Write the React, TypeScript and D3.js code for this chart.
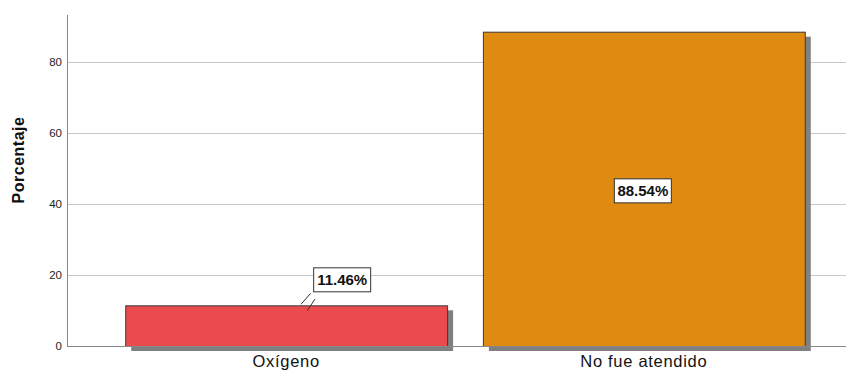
import React from "react";
import * as d3 from "d3";

const categories = ["Oxígeno", "No fue atendido"];
const values = [11.46, 88.54];
const valueLabels = ["11.46%", "88.54%"];
const barColors = ["#EC4B4E", "#DF8A10"];
const yTicks = [0, 20, 40, 60, 80];
const yTitle = "Porcentaje";

const W = 846;
const H = 371;

export default function App() {
  const x = d3
    .scaleBand<string>()
    .domain(categories)
    .range([68, 862])
    .paddingInner(0.1)
    .paddingOuter(0.16);
  const y = d3.scaleLinear().domain([0, 93.24]).range([346, 15]);
  const bw = x.bandwidth();
  const font = "'Liberation Sans', Arial, sans-serif";

  return (
    <svg
      width={W}
      height={H}
      style={{ position: "absolute", left: 0, top: 0, background: "#fff" }}
      fontFamily={font}
    >
      {yTicks
        .filter((t) => t > 0)
        .map((t) => (
          <line
            key={"g" + t}
            x1={67}
            x2={W}
            y1={Math.round(y(t)) + 0.5}
            y2={Math.round(y(t)) + 0.5}
            stroke="#c8c8c8"
            strokeWidth={1}
          />
        ))}
      {yTicks.map((t) => (
        <text
          key={"t" + t}
          x={62}
          y={y(t)}
          dy="0.36em"
          textAnchor="end"
          fontSize={11.5}
          fill="#222"
        >
          {t}
        </text>
      ))}
      {categories.map((c, i) => {
        const x0 = x(c)!;
        const yt = y(values[i]);
        return (
          <g key={c}>
            <rect
              x={x0 + 6}
              y={yt + 5}
              width={bw}
              height={y(0) - yt}
              fill="#808080"
            />
            <rect
              x={x0 + 0.5}
              y={yt + 0.5}
              width={bw}
              height={y(0) - yt}
              fill={barColors[i]}
              stroke="#3a3a3a"
              strokeWidth={1}
            />
          </g>
        );
      })}
      <line x1={67.5} x2={67.5} y1={15} y2={346} stroke="#888" strokeWidth={1} />
      <line x1={67} x2={W} y1={346.5} y2={346.5} stroke="#888" strokeWidth={1} />
      {categories.map((c, i) => {
        const cx = x(c)! + bw / 2;
        const yt = y(values[i]);
        const inside = i === 1;
        const bx = inside ? cx - 1 : cx + 56;
        const by = inside ? (yt + y(0)) / 2 + 2 : yt - 25.5;
        return (
          <g key={"l" + c}>
            {!inside && (
              <g stroke="#333" strokeWidth={1}>
                <line x1={cx + 24.5} y1={yt - 12} x2={cx + 14.8} y2={yt - 1} />
                <line x1={cx + 28.8} y1={yt - 6.3} x2={cx + 21.1} y2={yt + 5.4} />
              </g>
            )}
            <rect
              x={bx - 28.5}
              y={by - 12}
              width={57}
              height={24}
              fill="#fff"
              stroke="#333"
              strokeWidth={1}
            />
            <text
              x={bx}
              y={by}
              dy="0.36em"
              textAnchor="middle"
              fontSize={15}
              fontWeight="bold"
              fill="#111"
            >
              {valueLabels[i]}
            </text>
          </g>
        );
      })}
      {categories.map((c) => (
        <text
          key={"x" + c}
          x={x(c)! + bw / 2}
          y={366.5}
          textAnchor="middle"
          fontSize={16.5}
          letterSpacing={0.7}
          fill="#111"
        >
          {c}
        </text>
      ))}
      <text
        transform={`translate(24,160) rotate(-90)`}
        textAnchor="middle"
        fontSize={16}
        fontWeight="bold"
        letterSpacing={0.5}
        fill="#111"
      >
        {yTitle}
      </text>
    </svg>
  );
}
